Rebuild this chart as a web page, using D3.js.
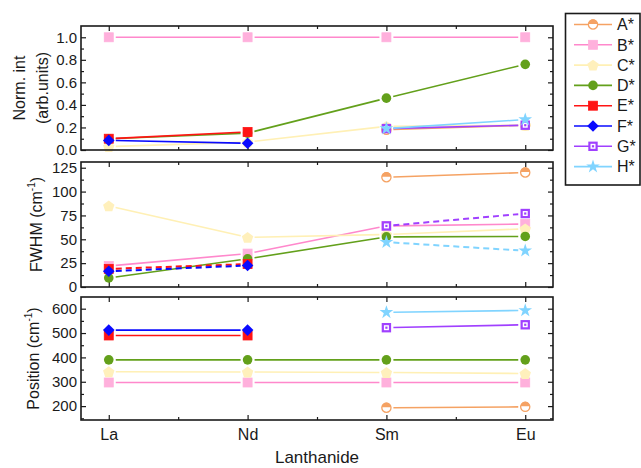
<!DOCTYPE html>
<html><head><meta charset="utf-8">
<script src="https://cdn.jsdelivr.net/npm/d3@7"></script>
<style>
html,body{margin:0;padding:0;background:#fff;}
text{font-family:"Liberation Sans",Arial,sans-serif;fill:#1a1a1a;}
</style></head>
<body>
<svg id="chart" width="641" height="468"></svg>
<script>
// ---------- DATA ----------
const categories = ["La", "Nd", "Sm", "Eu"];
const seriesNames = ["A*", "B*", "C*", "D*", "E*", "F*", "G*", "H*"];

// Norm. int (arb.units)
const intA = [null, null, 0.18, 0.22];
const intB = [1.0, 1.0, 1.0, 1.0];
const intC = [0.03, 0.07, 0.21, 0.22];
const intD = [0.10, 0.15, 0.46, 0.76];
const intE = [0.10, 0.16, null, null];
const intF = [0.085, 0.06, null, null];
const intG = [null, null, 0.19, 0.22];
const intH = [null, null, 0.19, 0.27];

// FWHM (cm-1)
const fwhmA = [null, null, 115, 120];
const fwhmB = [22, 35, 64, 66];
const fwhmC = [85, 52, 55, 61];
const fwhmD = [9.5, 29.5, 52.5, 53];
const fwhmE = [19, 24, null, null];
const fwhmF = [16.5, 22.5, null, null];
const fwhmG = [null, null, 64, 77];
const fwhmH = [null, null, 47, 38];

// Position (cm-1)
const posA = [null, null, 193, 197];
const posB = [297, 297, 297, 297];
const posC = [341, 340, 338, 334];
const posD = [390, 390, 390, 390];
const posE = [490, 490, null, null];
const posF = [512, 512, null, null];
const posG = [null, null, 522, 534];
const posH = [null, null, 585, 593];

// tick labels
const intTicks = [0, 0.2, 0.4, 0.6, 0.8, 1.0];
const fwhmTicks = [0, 25, 50, 75, 100, 125];
const posTicks = [200, 300, 400, 500, 600];

// ---------- STYLE ----------
const styles = {
  "A*": {line: "#F5A263", fill: "#F5A263", shape: "halfcircle"},
  "B*": {line: "#FF88CC", fill: "#FFB0DC", shape: "square"},
  "C*": {line: "#FFF0B5", fill: "#FFF0BC", shape: "pentagon"},
  "D*": {line: "#63A01B", fill: "#63A01B", shape: "circle"},
  "E*": {line: "#FF1414", fill: "#FF1414", shape: "square"},
  "F*": {line: "#0A0AFF", fill: "#0A0AFF", shape: "diamond"},
  "G*": {line: "#A040FF", fill: "#A040FF", shape: "dotsquare"},
  "H*": {line: "#80D4FF", fill: "#80D4FF", shape: "star"}
};

const panels = [
  {title: ["Norm. int", "(arb.units)"], top: 26, bottom: 150, domain: [0, 1.1],
   major: intTicks, minor: d3.range(0.1, 1.05, 0.2), fmt: d3.format(".1f"),
   data: [intA, intB, intC, intD, intE, intF, intG, intH], dashed: []},
  {title: ["FWHM (cm", "-1", ")"], top: 162, bottom: 287, domain: [0, 131],
   major: fwhmTicks, minor: d3.range(12.5, 131, 25), fmt: d3.format("d"),
   data: [fwhmA, fwhmB, fwhmC, fwhmD, fwhmE, fwhmF, fwhmG, fwhmH], dashed: ["E*", "F*", "G*", "H*"]},
  {title: ["Position (cm", "-1", ")"], top: 297, bottom: 420, domain: [143, 648],
   major: posTicks, minor: d3.range(150, 648, 100), fmt: d3.format("d"),
   data: [posA, posB, posC, posD, posE, posF, posG, posH], dashed: []}
];

const L = 81, R = 553;
const svg = d3.select("#chart");
const x = d3.scaleLinear().domain([0.8, 4.2]).range([L, R]);
const xMajor = [1, 2, 3, 4], xMinor = [1.5, 2.5, 3.5];

function pentagonPath(r) {
  const pts = d3.range(5).map(i => {
    const a = -Math.PI / 2 + i * 2 * Math.PI / 5;
    return [r * Math.cos(a), r * Math.sin(a) + r * 0.1];
  });
  return "M" + pts.map(p => p.join(",")).join("L") + "Z";
}

function drawMarker(g, name, cx, cy) {
  const s = styles[name];
  const m = g.append("g").attr("transform", `translate(${cx},${cy})`);
  switch (s.shape) {
    case "square":
      m.append("rect").attr("x", -4.5).attr("y", -4.5).attr("width", 9).attr("height", 9)
        .attr("fill", s.fill).attr("stroke", s.fill).attr("stroke-width", 0.8);
      break;
    case "circle":
      m.append("circle").attr("r", 4.8).attr("fill", s.fill);
      break;
    case "halfcircle":
      m.append("circle").attr("r", 4.6).attr("fill", "#fff").attr("stroke", s.line).attr("stroke-width", 1.3);
      m.append("path").attr("d", "M-4.6,-0.6A4.6,4.6 0 0 1 4.6,-0.6Z").attr("fill", s.fill);
      break;
    case "pentagon":
      m.append("path").attr("d", pentagonPath(6)).attr("fill", s.fill);
      break;
    case "diamond":
      m.append("path").attr("d", "M0,-5.8L5.8,0L0,5.8L-5.8,0Z").attr("fill", s.fill);
      break;
    case "dotsquare":
      m.append("rect").attr("x", -3.6).attr("y", -3.6).attr("width", 7.2).attr("height", 7.2)
        .attr("fill", "#fff").attr("stroke", s.line).attr("stroke-width", 2.2);
      m.append("rect").attr("x", -1.1).attr("y", -1.1).attr("width", 2.2).attr("height", 2.2).attr("fill", s.line);
      break;
    case "star":
      m.append("path").attr("d", d3.symbol(d3.symbolStar, 58)()).attr("fill", s.fill);
      break;
  }
}

function drawSeg(g, name, x1, y1, x2, y2, dashed, gap) {
  const dx = x2 - x1, dy = y2 - y1, len = Math.hypot(dx, dy);
  if (len < 2 * gap) return;
  const ux = dx / len, uy = dy / len;
  g.append("line")
    .attr("x1", x1 + ux * gap).attr("y1", y1 + uy * gap)
    .attr("x2", x2 - ux * gap).attr("y2", y2 - uy * gap)
    .attr("stroke", styles[name].line)
    .attr("stroke-width", dashed ? 2 : 1.6)
    .attr("stroke-dasharray", dashed ? "6,4" : null);
}

panels.forEach((p, pi) => {
  const y = d3.scaleLinear().domain(p.domain).range([p.bottom, p.top]);
  const g = svg.append("g");
  const H = p.bottom - p.top;

  // axes ticks (inward)
  const axL = g.append("g").attr("transform", `translate(${L},0)`)
    .call(d3.axisLeft(y).tickValues(p.major).tickSize(-5).tickPadding(4).tickFormat(p.fmt));
  axL.selectAll("text").attr("font-size", 15).attr("fill", "#1a1a1a");
  g.append("g").attr("transform", `translate(${L},0)`)
    .call(d3.axisLeft(y).tickValues(p.minor).tickSize(-3).tickFormat(""));
  g.append("g").attr("transform", `translate(${R},0)`)
    .call(d3.axisRight(y).tickValues(p.major).tickSize(-5).tickFormat(""));
  g.append("g").attr("transform", `translate(${R},0)`)
    .call(d3.axisRight(y).tickValues(p.minor).tickSize(-3).tickFormat(""));
  g.append("g").attr("transform", `translate(0,${p.top})`)
    .call(d3.axisTop(x).tickValues(xMajor).tickSize(-5).tickFormat(""));
  g.append("g").attr("transform", `translate(0,${p.top})`)
    .call(d3.axisTop(x).tickValues(xMinor).tickSize(-3).tickFormat(""));
  const axB = g.append("g").attr("transform", `translate(0,${p.bottom})`)
    .call(d3.axisBottom(x).tickValues(xMajor).tickSize(-5).tickPadding(9)
      .tickFormat(pi === 2 ? (d => categories[d - 1]) : ""));
  axB.selectAll("text").attr("font-size", 16).attr("fill", "#1a1a1a");
  g.append("g").attr("transform", `translate(0,${p.bottom})`)
    .call(d3.axisBottom(x).tickValues(xMinor).tickSize(-3).tickFormat(""));
  g.selectAll(".domain").remove();
  g.selectAll(".tick line").attr("stroke", "#1a1a1a").attr("stroke-width", 1.2);

  // series
  seriesNames.forEach((name, si) => {
    const vals = p.data[si];
    const pts = vals.map((v, i) => v == null ? null : [x(i + 1), y(v)]);
    const dashed = p.dashed.includes(name);
    const sg = g.append("g");
    for (let i = 0; i < pts.length - 1; i++) {
      if (pts[i] && pts[i + 1]) drawSeg(sg, name, pts[i][0], pts[i][1], pts[i + 1][0], pts[i + 1][1], dashed, 7);
    }
    pts.forEach(pt => { if (pt) drawMarker(sg, name, pt[0], pt[1]); });
  });

  // frame
  g.append("rect").attr("x", L).attr("y", p.top).attr("width", R - L).attr("height", H)
    .attr("fill", "none").attr("stroke", "#1a1a1a").attr("stroke-width", 1.6);

  // y titles
  const cy = (p.top + p.bottom) / 2;
  if (pi === 0) {
    [[19, p.title[0]], [42, p.title[1]]].forEach(([cx, t]) => {
      svg.append("text").attr("transform", `translate(${cx},${cy}) rotate(-90)`)
        .attr("text-anchor", "middle").attr("dy", "0.35em").attr("font-size", 16).text(t);
    });
  } else {
    const cx = pi === 1 ? 36 : 33;
    const t = svg.append("text").attr("transform", `translate(${cx},${cy}) rotate(-90)`)
      .attr("text-anchor", "middle").attr("dy", "0.35em").attr("font-size", 16);
    t.append("tspan").text(p.title[0]);
    t.append("tspan").attr("font-size", 10).attr("dy", -7).text(p.title[1]);
    t.append("tspan").attr("dy", 7).text(p.title[2]);
  }
});

// x title
svg.append("text").attr("x", (L + R) / 2).attr("y", 463).attr("text-anchor", "middle")
  .attr("font-size", 17).text("Lanthanide");

// legend
const lg = svg.append("g");
lg.append("rect").attr("x", 565.5).attr("y", 13.5).attr("width", 74.5).attr("height", 171.5)
  .attr("fill", "#fff").attr("stroke", "#1a1a1a").attr("stroke-width", 1.6);
seriesNames.forEach((name, i) => {
  const yy = 24.5 + i * 20.3;
  lg.append("line").attr("x1", 574).attr("x2", 612).attr("y1", yy).attr("y2", yy)
    .attr("stroke", styles[name].line).attr("stroke-width", 1.6);
  drawMarker(lg, name, 593, yy);
  lg.append("text").attr("x", 617).attr("y", yy).attr("dy", "0.36em").attr("font-size", 16).text(name);
});
</script>
</body></html>
